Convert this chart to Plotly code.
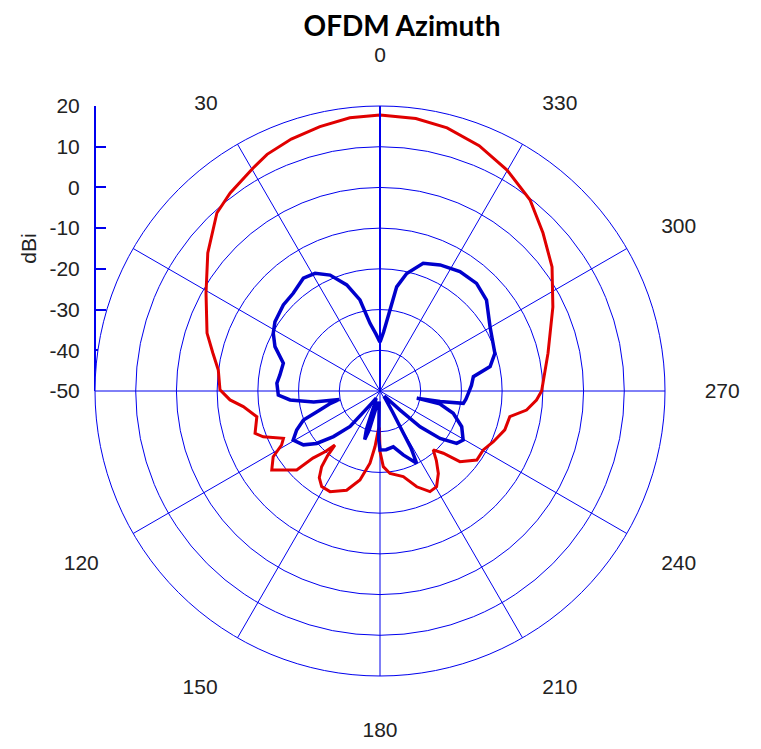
import plotly.graph_objects as go

# ---------------- data ----------------
red_theta = [0, 6.3, 12.8, 19.4, 25.5, 29.7, 37.1, 42.5, 51.3, 60.6, 71.5, 77.2, 82.6, 89.6,
             93.4, 96.5, 101.8, 108.7, 111.4, 116.1, 118.8, 121.6, 126.1, 130.3, 133.5,
             135.0, 138.0, 140.2, 141.0, 142.4, 145.0, 148.6, 153.6, 161.4, 167.3, 172.1,
             174.9, 177.5, 179.0, 180.0, 182.5, 186.9, 195.2, 201.0, 206.4, 210.6, 215.3,
             219.0, 222.1, 225.5, 228.5, 234.5, 240.3, 245.9, 252.7, 258.8, 262.6, 266.7,
             270.0, 282.7, 295.9, 305.8, 314.1, 321.9, 330.1, 338.0, 345.7, 352.5, 360]
red_db = [17.8, 17.5, 16.6, 15.6, 14.4, 13.0, 11.0, 9.3, 4.2, -0.95, -5.2, -7.9, -9.95, -10.7,
          -13.1, -16.2, -19.1, -17.6, -19.2, -23.6, -22.4, -19.2, -17.1, -20.0, -21.8,
          -26.7, -30.0, -32.7, -29.5, -26.5, -24.0, -22.5, -22.4, -24.3, -27.6, -32.1,
          -36.3, -40.4, -41.0, -35.1, -31.4, -29.6, -28.2, -24.8, -22.4, -22.7, -25.2,
          -28.0, -30.5, -28.2, -23.8, -20.8, -20.8, -19.5, -17.9, -17.5, -13.7, -11.5,
          -10.3, -7.7, -2.8, 2.1, 5.75, 9.7, 12.6, 15.0, 16.7, 17.5, 17.8]

blue_theta = [0, 4, 8.4, 12.4, 17.4, 23.3, 28.9, 34.2, 41.6, 48.3, 56.6, 61.6, 67.1, 74.0,
              80.9, 85.7, 92.3, 95.7, 99.5, 101.8, 104.0, 107.6, 110.7, 115.1, 119.5, 125.1,
              129.6, 134.4, 139.9, 145, 152, 158, 160.5, 162.5, 164.5, 167, 172, 176, 178.5,
              180, 186, 193.4, 200, 206.9, 208.5, 211, 216, 222, 226.5, 228.3, 231.7, 235.7,
              239.5, 246.4, 253.1, 257.8, 259.0, 260.0, 261.6, 264.5, 268.5, 273.5, 278.7,
              282.5, 288.2, 300.3, 310.5, 318.1, 326.2, 334.5, 341.3, 347.2, 350.9, 353.0,
              356.5, 360]
blue_db = [-38, -36, -33.2, -27.1, -22.7, -19.0, -17.0, -16.5, -17.9, -18.2, -19.1, -20.2,
           -22.0, -25.3, -25.1, -24.6, -25.0, -27.8, -33.5, -39.8, -37.5, -34.5, -29.9, -27.4,
           -25.5, -27.0, -29.8, -34.0, -38.6, -46, -48, -46, -40, -37.5, -40, -46, -47, -47,
           -38, -35.5, -35.5, -35.9, -33.3, -30.1, -34, -44, -48, -48, -43.2, -36.8, -31.2,
           -27.2, -26.3, -28.1, -31.2, -35.0, -40.8, -35.0, -29.3, -28.8, -28.3, -27.5,
           -26.8, -22.3, -20.3, -18.7, -15.6, -14.5, -14.7, -15.7, -16.9, -20.4, -24.1,
           -30.0, -35.5, -38]

angle_ticks = [0, 30, 60, 90, 120, 150, 180, 210, 240, 270, 300, 330]
angle_labels = ["0", "30", "", "", "120", "150", "180", "210", "240", "270", "300", "330"]
db_ticks = [-50, -40, -30, -20, -10, 0, 10, 20]
db_labels = ["-50", "-40", "-30", "-20", "-10", "0", "10", "20"]
db_range = [-50, 20]

# ---------------- figure ----------------
OFF = 8                      # default page margin of the html body
W, H = 761 - OFF, 749 - OFF  # figure size so that it fits the window
GRID = "#0000EE"
TXT = "#222222"


def fx(px):  # page x pixel -> figure fraction
    return (px - OFF) / W


def fy(py):  # page y pixel -> figure fraction (from bottom)
    return (H - (py - OFF)) / H


fig = go.Figure()

fig.add_trace(go.Scatterpolar(theta=red_theta, r=red_db, mode="lines",
                              line=dict(color="#E00000", width=3), showlegend=False))
fig.add_trace(go.Scatterpolar(theta=blue_theta, r=blue_db, mode="lines",
                              line=dict(color="#0000CC", width=3.5), showlegend=False))

# invisible trace to carry the left dBi axis
fig.add_trace(go.Scatter(x=[0.5, 0.5], y=db_range, mode="markers",
                         marker=dict(opacity=0), hoverinfo="skip", showlegend=False,
                         xaxis="x", yaxis="y"))

cx0, cx1 = fx(95), fx(665)
cy0, cy1 = fy(676), fy(106)
cyc = fy(391)

fig.update_layout(
    template="none",
    width=W, height=H,
    margin=dict(l=0, r=0, t=0, b=0, pad=0, autoexpand=False),
    paper_bgcolor="white", plot_bgcolor="rgba(0,0,0,0)",
    font=dict(family="Liberation Sans, Arial, sans-serif", size=21, color=TXT),
    title=dict(text="<b>OFDM Azimuth</b>", x=fx(402), xanchor="center", xref="container",
               y=fy(26), yanchor="middle", yref="container",
               font=dict(family="Lato, Open Sans, sans-serif", size=28, color="black")),
    polar=dict(
        domain=dict(x=[cx0, cx1], y=[cy0, cy1]),
        bgcolor="white",
        angularaxis=dict(rotation=90, direction="counterclockwise",
                         tickmode="array", tickvals=angle_ticks, ticktext=angle_labels,
                         showgrid=True, gridcolor=GRID, gridwidth=1,
                         showline=True, linecolor=GRID, linewidth=1,
                         ticks="outside", ticklen=35, tickcolor="rgba(0,0,0,0)",
                         tickfont=dict(size=21, color=TXT)),
        radialaxis=dict(range=db_range, tickmode="array", tickvals=db_ticks[1:],
                        showticklabels=False, ticks="", angle=90,
                        showline=True, linecolor=GRID, linewidth=2,
                        showgrid=True, gridcolor=GRID, gridwidth=1),
    ),
    xaxis=dict(domain=[cx0, cx1], range=[0, 1], fixedrange=True, automargin=False,
               anchor="free", position=cyc, showline=True, linecolor=GRID, linewidth=2,
               showticklabels=False, ticks="", showgrid=False, zeroline=False),
    yaxis=dict(domain=[cyc, cy1], range=db_range, anchor="free", position=cx0,
               side="left", tickmode="array", tickvals=db_ticks, ticktext=db_labels,
               automargin=False,
               ticks="inside", ticklen=10, tickcolor=GRID, tickwidth=2,
               showline=True, linecolor=GRID, linewidth=2,
               showgrid=False, zeroline=False, ticklabelstandoff=10,
               tickfont=dict(size=21, color=TXT),
               title=dict(text="dBi", font=dict(size=21, color=TXT), standoff=6)),
)

fig.write_html("out.html")
